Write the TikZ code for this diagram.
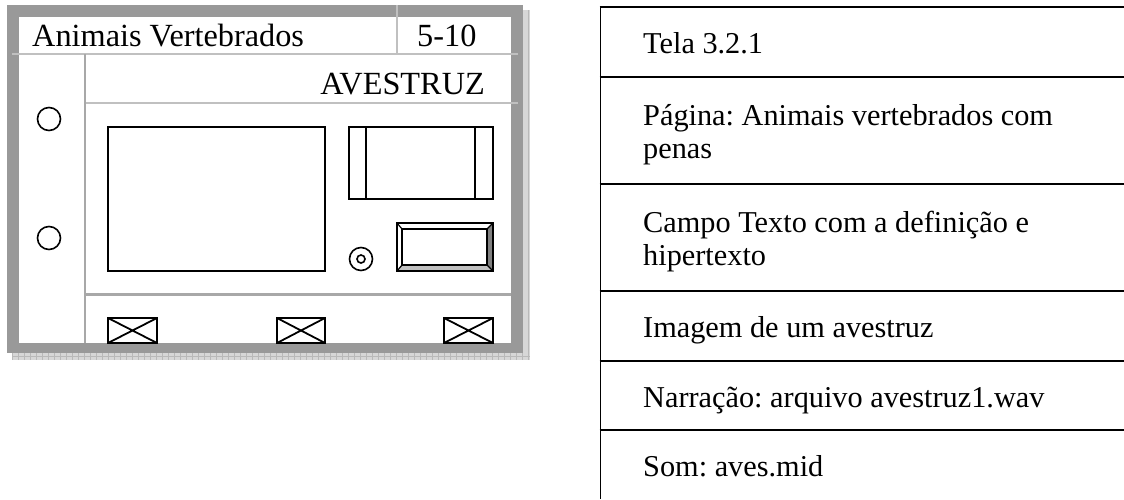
\documentclass[tikz,border=0pt]{standalone}
\usepackage{fontspec}
\setmainfont{Liberation Serif}
\frenchspacing
\definecolor{frame}{RGB}{153,153,153}
\definecolor{rule}{RGB}{192,192,192}
\definecolor{divider}{RGB}{168,168,168}
\definecolor{shadow}{RGB}{215,215,215}
\definecolor{shadowline}{RGB}{185,185,185}
\definecolor{bevdark}{RGB}{128,128,128}
\definecolor{bevlight}{RGB}{192,192,192}
\tikzset{
  ink/.style={draw=black, line width=1.8pt},
  thinrule/.style={draw=rule, line width=1.5pt},
  tabline/.style={draw=black, line width=1.8pt},
  lefttxt/.style={font=\fontsize{32.3}{34}\selectfont, inner sep=0pt},
  tabtxt/.style={font=\fontsize{30.3}{33}\selectfont, inner sep=0pt, anchor=base west, align=left},
}
\begin{document}
\begin{tikzpicture}[x=1pt,y=-1pt]
\useasboundingbox (0,0) rectangle (1124,499);
% shadow
\fill[shadow] (12,10) rectangle (530,360);
\begin{scope}
\clip (12,353) rectangle (530,360) (523,10) rectangle (530,360);
\foreach \k in {0,6,...,520} \draw[shadowline, line width=0.4pt] (12+\k,10) -- (12+\k,360);
\draw[shadowline, line width=0.4pt] (12,356.5) -- (530,356.5);
\end{scope}
% frame
\fill[frame] (7,5) rectangle (523,353);
\fill[white] (19,17) rectangle (511,343);
% rules
\draw[thinrule] (12,54) -- (518,54);
\draw[thinrule] (397,5) -- (397,54);
\draw[thinrule] (85,103) -- (518,103);
\draw[divider, line width=2.5pt] (85,54) -- (85,343);
\draw[divider, line width=2.5pt] (85,294.5) -- (511,294.5);
% texts
\node[lefttxt, anchor=base west] (title) at (32,46) {Animais Vertebrados};
\node[lefttxt, anchor=base west] (num) at (417,46) {5-10};
\node[lefttxt, anchor=base east] (name) at (485,94) {AVESTRUZ};
% left radio circles
\draw[ink, line width=1.6pt] (49,119) circle[radius=11.5pt];
\draw[ink, line width=1.6pt] (49,238) circle[radius=11.5pt];
% big picture area
\draw[ink] (108,127) rectangle (325,271);
% top right box
\draw[ink] (349,127) rectangle (493,199);
\draw[ink] (366,127) -- (366,199);
\draw[ink] (475,127) -- (475,199);
% button
\fill[bevdark] (487,229) -- (493,223) -- (493,271) -- (487,265) -- cycle;
\fill[bevlight] (402,265) -- (487,265) -- (493,271) -- (397,271) -- cycle;
\draw[ink] (397,223) rectangle (493,271);
\draw[black, line width=1.4pt] (402,229) rectangle (487,265);
\draw[black, line width=1.2pt] (397,223) -- (402,229) (493,223) -- (487,229) (397,271) -- (402,265) (493,271) -- (487,265);
% target
\draw[ink, line width=1.6pt] (361,259) circle[radius=11.5pt];
\draw[ink, line width=1.6pt] (361,259) circle[radius=4pt];
% cross boxes
\foreach \xa/\xb in {108/157, 277/325, 444/493} {
  \draw[ink] (\xa,318) rectangle (\xb,343);
  \draw[ink] (\xa,318) -- (\xb,343) (\xa,343) -- (\xb,318);
}
% table
\coordinate (ttop) at (600.5,7);
\coordinate (tbot) at (600.5,499);
\draw[tabline] (ttop) -- (tbot);
\foreach \yy in {7,77,184,291,361,430} \draw[tabline] (599.6,\yy) -- (1124,\yy);
\node[tabtxt] (r1) at (643,53) {Tela 3.2.1};
\node[tabtxt] (r2) at (643,125) {Página: Animais vertebrados com};
\node[tabtxt] (r2b) at (643,158) {penas};
\node[tabtxt] (r3) at (643,232) {Campo Texto com a definição e};
\node[tabtxt] (r3b) at (643,265) {hipertexto};
\node[tabtxt] (r4) at (643,337) {Imagem de um avestruz};
\node[tabtxt] (r5) at (643,407) {Narração: arquivo avestruz1.wav};
\node[tabtxt] (r6) at (643,476) {Som: aves.mid};
\end{tikzpicture}
\end{document}
